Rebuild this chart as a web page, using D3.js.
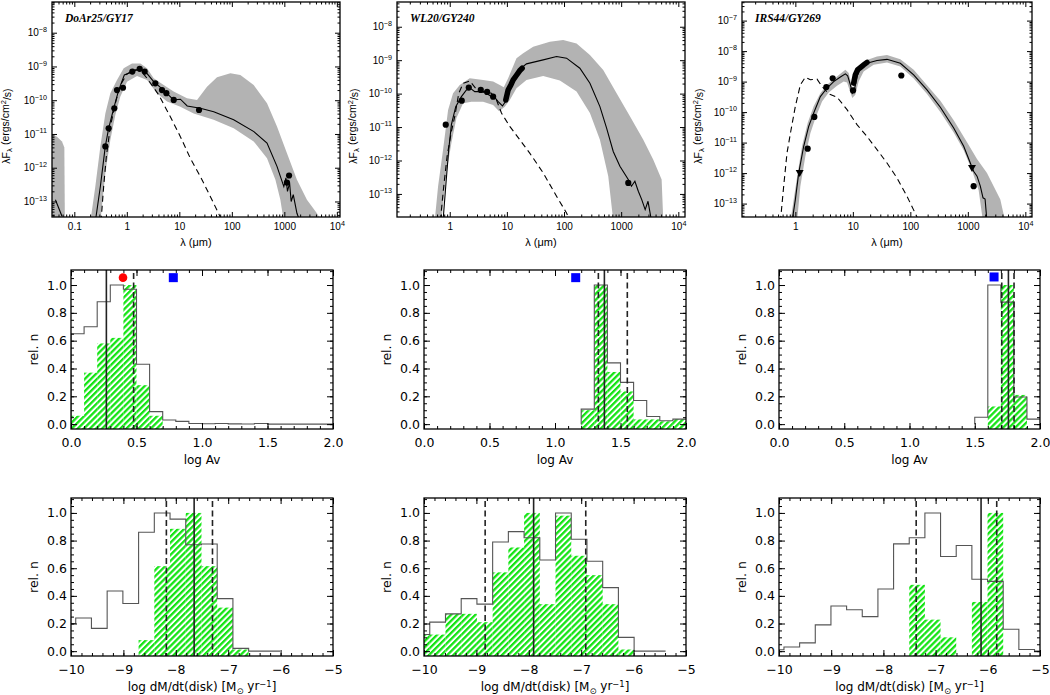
<!DOCTYPE html>
<html>
<head>
<meta charset="utf-8">
<script src="https://cdn.jsdelivr.net/npm/d3@7"></script>
<style>
  body { margin: 0; background: #fff; }
  svg { display: block; }
</style>
</head>
<body>
<svg id="chart" width="1050" height="695"></svg>
<script>
// ---- SED panels: [log10 lambda (um), log10 lambda*F (ergs/cm2/s)] ----
var sed1Upper = [[-0.695,-13.6],[-0.60,-12.56],[-0.504,-11.37],[-0.409,-10.39],[-0.314,-9.79],[-0.187,-9.40],[-0.06,-9.055],[0.099,-8.91],[0.258,-8.91],[0.385,-9.055],[0.512,-9.35],[0.702,-9.55],[0.892,-9.745],[1.146,-9.94],[1.337,-9.99],[1.527,-9.60],[1.718,-9.32],[1.972,-9.20],[2.162,-9.25],[2.416,-9.55],[2.67,-10.09],[2.86,-10.78],[3.05,-11.57],[3.24,-12.36],[3.43,-12.95],[3.62,-13.35],[3.72,-13.6]];
var sed1Lower = [[-0.504,-13.6],[-0.409,-12.16],[-0.314,-11.18],[-0.219,-10.44],[-0.123,-9.89],[0.004,-9.45],[0.194,-9.28],[0.385,-9.40],[0.575,-9.79],[0.766,-10.04],[1.02,-10.19],[1.273,-10.39],[1.654,-10.58],[2.035,-10.83],[2.416,-11.22],[2.67,-11.72],[2.83,-12.36],[2.924,-12.95],[2.99,-13.6]];
var sed1Patch = [[-1.45,-10.98],[-1.33,-11.08],[-1.235,-11.22],[-1.19,-11.4],[-1.18,-13.6],[-1.45,-13.6]];
var sed1Fit = [[-0.60,-13.6],[-0.504,-12.556],[-0.41,-11.37],[-0.345,-10.83],[-0.25,-10.24],[-0.155,-9.70],[-0.047,-9.25],[0.118,-9.15],[0.245,-9.07],[0.353,-9.15],[0.511,-9.45],[0.702,-9.70],[0.89,-9.99],[1.02,-9.97],[1.15,-10.17],[1.40,-10.24],[1.655,-10.34],[2.035,-10.58],[2.42,-10.93],[2.67,-11.27],[2.86,-11.96],[2.99,-12.56],[3.03,-12.3],[3.06,-12.7],[3.1,-12.45],[3.13,-13.0],[3.17,-12.8],[3.24,-13.35],[3.30,-13.6]];
var sed1FitUV = [[-1.36,-12.95],[-1.235,-13.44]];
var sed1Star = [[-0.492,-13.6],[-0.441,-12.556],[-0.39,-11.67],[-0.314,-10.78],[-0.219,-10.09],[-0.123,-9.55],[0.004,-9.22],[0.162,-9.10],[0.257,-9.10],[0.385,-9.35],[0.607,-9.84],[0.829,-10.49],[1.02,-11.08],[1.21,-11.72],[1.40,-12.26],[1.59,-12.85],[1.78,-13.46]];
var sed1Points = [[-0.409,-11.37],[-0.346,-10.83],[-0.238,-10.24],[-0.187,-9.70],[-0.073,-9.63],[0.105,-9.15],[0.245,-9.07],[0.34,-9.15],[0.543,-9.50],[0.67,-9.70],[0.753,-9.79],[0.893,-9.99],[1.375,-10.29],[3.05,-12.44],[3.09,-12.23]];

var sed2Upper = [[-0.263,-13.8],[-0.204,-12.77],[-0.117,-11.68],[-0.029,-10.49],[0.058,-9.99],[0.175,-9.74],[0.35,-9.54],[0.584,-9.59],[0.759,-9.64],[0.876,-9.74],[0.946,-9.81],[1.022,-9.54],[1.168,-8.94],[1.285,-8.795],[1.46,-8.60],[1.752,-8.45],[1.985,-8.40],[2.219,-8.50],[2.453,-8.845],[2.686,-9.29],[2.92,-9.99],[3.153,-10.68],[3.387,-11.38],[3.562,-11.98],[3.708,-12.57],[3.737,-13.8]];
var sed2Lower = [[-0.146,-13.8],[-0.058,-12.37],[0.029,-11.48],[0.117,-10.73],[0.234,-10.29],[0.38,-10.24],[0.584,-10.24],[0.759,-10.34],[0.864,-10.53],[0.964,-10.39],[1.051,-10.19],[1.168,-9.84],[1.343,-9.59],[1.635,-9.47],[1.927,-9.61],[2.219,-9.94],[2.453,-10.58],[2.628,-11.38],[2.774,-12.47],[2.861,-13.8]];
var sed2Fit = [[-0.117,-13.8],[-0.07,-12.77],[-0.018,-11.68],[0.029,-10.93],[0.105,-10.39],[0.204,-10.09],[0.292,-9.89],[0.362,-9.84],[0.438,-9.94],[0.584,-9.94],[0.73,-9.99],[0.847,-10.24],[0.923,-10.37],[0.993,-10.19],[1.08,-9.74],[1.197,-9.31],[1.343,-9.11],[1.635,-8.99],[1.869,-8.89],[2.044,-8.94],[2.277,-9.24],[2.453,-9.69],[2.628,-10.39],[2.745,-11.03],[2.861,-11.73],[2.978,-12.17],[3.124,-12.57],[3.18,-12.77],[3.24,-12.62],[3.30,-12.92],[3.36,-13.17],[3.42,-13.47],[3.47,-13.22],[3.53,-13.8]];
var sed2Star = [[-0.164,-13.8],[-0.105,-12.77],[-0.047,-11.88],[0.029,-11.13],[0.088,-10.68],[0.158,-9.99],[0.234,-9.69],[0.35,-9.62],[0.467,-9.87],[0.642,-9.99],[0.818,-10.19],[0.905,-10.58],[1.051,-10.98],[1.226,-11.38],[1.40,-11.78],[1.635,-12.37],[1.869,-13.07],[2.044,-13.57],[2.073,-13.69]];
var sed2Points = [[-0.07,-10.93],[0.21,-10.21],[0.333,-9.82],[0.543,-9.89],[0.654,-9.95],[0.759,-10.09],[3.124,-12.67]];
var sed2Spec = [[0.981,-10.19],[1.022,-9.89],[1.069,-9.74],[1.11,-9.59],[1.168,-9.45],[1.226,-9.31],[1.267,-9.24]];

var sed3Upper = [[-0.087,-13.6],[-0.029,-12.87],[0.041,-12.0],[0.116,-11.12],[0.214,-10.36],[0.319,-9.81],[0.435,-9.38],[0.551,-9.105],[0.667,-8.92],[0.783,-8.745],[0.87,-8.615],[0.928,-8.72],[0.968,-9.05],[1.003,-9.25],[1.043,-8.89],[1.101,-8.505],[1.246,-8.29],[1.42,-8.18],[1.594,-8.13],[1.826,-8.27],[2.058,-8.61],[2.29,-9.12],[2.522,-9.63],[2.754,-10.27],[2.986,-10.99],[3.159,-11.54],[3.333,-12.0],[3.449,-12.43],[3.565,-12.87],[3.652,-13.6]];
var sed3Lower = [[0.029,-13.6],[0.087,-12.43],[0.174,-11.45],[0.261,-10.69],[0.348,-10.20],[0.464,-9.65],[0.58,-9.36],[0.725,-9.14],[0.841,-9.0],[0.899,-9.03],[0.957,-9.36],[0.991,-9.54],[1.043,-9.43],[1.101,-9.0],[1.188,-8.67],[1.362,-8.45],[1.594,-8.37],[1.826,-8.505],[2.058,-8.90],[2.29,-9.41],[2.522,-10.0],[2.754,-10.67],[2.928,-11.25],[3.072,-11.91],[3.188,-12.56],[3.264,-13.6]];
var sed3Fit = [[-0.058,-13.6],[0.0,-12.87],[0.058,-12.0],[0.145,-11.12],[0.232,-10.47],[0.319,-10.03],[0.435,-9.49],[0.551,-9.21],[0.667,-9.0],[0.783,-8.85],[0.870,-8.745],[0.910,-8.81],[0.957,-9.105],[0.991,-9.38],[1.026,-9.29],[1.072,-8.83],[1.13,-8.56],[1.246,-8.40],[1.42,-8.31],[1.594,-8.27],[1.826,-8.40],[2.058,-8.78],[2.29,-9.27],[2.522,-9.84],[2.754,-10.52],[2.928,-11.12],[3.043,-11.67],[3.10,-11.94],[3.16,-12.1],[3.217,-12.43],[3.264,-12.81],[3.30,-12.85],[3.333,-13.6]];
var sed3Star = [[-0.261,-13.6],[-0.203,-12.43],[-0.145,-11.34],[-0.075,-10.58],[0.0,-9.81],[0.087,-9.105],[0.174,-8.855],[0.261,-8.94],[0.377,-8.92],[0.464,-9.16],[0.58,-9.40],[0.725,-9.51],[0.899,-9.92],[1.072,-10.41],[1.246,-10.80],[1.42,-11.23],[1.594,-11.67],[1.768,-12.16],[1.942,-12.76],[2.116,-13.44]];
var sed3Points = [[0.214,-11.2],[0.330,-10.16],[0.539,-9.18],[0.649,-8.89],[1.003,-9.29],[1.843,-8.80],[3.101,-12.43]];
var sed3Limits = [[0.075,-12.0],[3.072,-11.83]];
var sed3Spec = [[1.014,-9.05],[1.043,-8.78],[1.084,-8.61],[1.13,-8.54],[1.188,-8.45],[1.246,-8.37]];

var sedTitles = ["DoAr25/GY17", "WL20/GY240", "IRS44/GY269"];

// ---- log Av histograms (bin width 0.1) ----
var av1Start = 0.0;
var av1All  = [0.65,0.70,0.88,1.0,0.97,0.43,0.09,0.03,0.02,0.005,0.003,0.005,0.002,0.001,0.005,0,0,0,0,0];
var av1Good = [0.06,0.37,0.58,0.62,1.0,0.28,0.06,0,0,0,0,0,0,0,0,0,0,0,0,0];
var av1Best = [0.27], av1Range = [0.478];
var av1Red = [[0.397,1.053]], av1Blue = [[0.781,1.053]];

var av2Start = 1.2;
var av2All  = [0.108,1.0,0.44,0.30,0.17,0.055,0.024,0.036];
var av2Good = [0.10,1.0,0.375,0.235,0.034,0.034,0.02,0.036];
var av2Best = [1.377], av2Range = [1.331,1.552];
var av2Blue = [[1.158,1.053]];

var av3Start = 1.5;
var av3All  = [0.05,1.0,0.877,0.195,0.036];
var av3Good = [0,0.127,1.0,0.21,0];
var av3Best = [1.758], av3Range = [1.707,1.801];
var av3Blue = [[1.648,1.058]];

// ---- log dM/dt(disk) histograms (bin width 0.3) ----
var md1Start = -10.21;
var md1All  = [0.20,0.24,0.165,0.435,0.345,0.86,1.0,0.955,0.77,0.775,0.38,0.02,0,0];
var md1Good = [0,0,0,0,0,0.08,0.615,0.885,1.0,0.615,0.315,0.012,0,0];
var md1Best = [-7.65], md1Range = [-8.18,-7.30];

var md2Start = -10.19;
var md2All  = [0.12,0.21,0.27,0.38,0.34,0.79,0.865,0.82,0.66,1.0,0.81,0.65,0.46,0.10,0,0];
var md2Good = [0.12,0.12,0.27,0.27,0.21,0.57,0.75,1.0,0.34,0.98,0.69,0.55,0.34,0.012,0,0];
var md2Best = [-7.908], md2Range = [-8.833,-6.913];

var md3Start = -10.205;
var md3All  = [0.01,0.03,0.06,0.19,0.327,0.30,0.25,0.45,0.776,0.82,1.0,0.685,0.764,0.52,0.505,0.159,0.012,0];
var md3Good = [0,0,0,0,0,0,0,0,0,0.48,0.228,0.10,0,0.356,1.0,0,0,0];
var md3Best = [-6.129], md3Range = [-7.372,-5.829];

var avTicks = [0, 0.5, 1.0, 1.5, 2.0];
var mdTicks = [-10, -9, -8, -7, -6, -5];
var relTicks = [0, 0.2, 0.4, 0.6, 0.8, 1.0];

var svg = d3.select("#chart");
var defs = svg.append("defs");
// green hatching like the IDL line_fill
defs.append("pattern").attr("id", "hatch").attr("patternUnits", "userSpaceOnUse")
    .attr("width", 4.3).attr("height", 4.3).attr("patternTransform", "rotate(45)")
    .append("rect").attr("width", 2.3).attr("height", 4.3).attr("fill", "#14e414");

var SANS = "'DejaVu Sans', sans-serif";
var NARROW = "'Liberation Sans Narrow', 'Liberation Sans', sans-serif";
var clipId = 0;

function supify(sel) {
    sel.selectAll(".tick text").each(function() {
        var t = d3.select(this), s = t.text();
        if (s.indexOf("^") < 0) return;
        var p = s.split("^");
        t.text(p[0]);
        t.append("tspan").attr("dy", "-0.6em").attr("font-size", "0.72em").text(p[1]);
    });
}

function drawAxes(g, x, y, p, o) {
    var none = function() { return ""; };
    function put(axis, tr) {
        var a = g.append("g").attr("transform", tr).call(axis);
        a.select(".domain").remove();
        a.attr("font-family", o.font).attr("font-size", o.fs);
        return a;
    }
    put(d3.axisBottom(x).tickValues(o.xMin).tickSize(-o.minLen).tickFormat(none), "translate(0," + p.y1 + ")");
    var xb = put(d3.axisBottom(x).tickValues(o.xMaj).tickSize(-o.majLen).tickPadding(o.padX).tickFormat(o.xFmt), "translate(0," + p.y1 + ")");
    put(d3.axisTop(x).tickValues(o.xMin).tickSize(-o.minLen).tickFormat(none), "translate(0," + p.y0 + ")");
    put(d3.axisTop(x).tickValues(o.xMaj).tickSize(-o.majLen).tickFormat(none), "translate(0," + p.y0 + ")");
    put(d3.axisLeft(y).tickValues(o.yMin).tickSize(-o.minLen).tickFormat(none), "translate(" + p.x0 + ",0)");
    var yl = put(d3.axisLeft(y).tickValues(o.yMaj).tickSize(-o.majLen).tickPadding(o.padY).tickFormat(o.yFmt), "translate(" + p.x0 + ",0)");
    put(d3.axisRight(y).tickValues(o.yMin).tickSize(-o.minLen).tickFormat(none), "translate(" + p.x1 + ",0)");
    put(d3.axisRight(y).tickValues(o.yMaj).tickSize(-o.majLen).tickFormat(none), "translate(" + p.x1 + ",0)");
    supify(xb); supify(yl);
    g.append("rect").attr("x", p.x0).attr("y", p.y0).attr("width", p.x1 - p.x0).attr("height", p.y1 - p.y0)
        .attr("fill", "none").attr("stroke", "#000").attr("stroke-width", 1.3);
}

function clipFor(p) {
    var id = "clip" + (clipId++);
    defs.append("clipPath").attr("id", id).append("rect")
        .attr("x", p.x0).attr("y", p.y0).attr("width", p.x1 - p.x0).attr("height", p.y1 - p.y0);
    return "url(#" + id + ")";
}

function logTicks(lo, hi) {
    var maj = [], min = [];
    for (var e = Math.floor(lo); e <= Math.ceil(hi); e++) {
        for (var m = 1; m < 10; m++) {
            var v = Math.log10(m) + e;
            if (v < lo || v > hi) continue;
            (m === 1 ? maj : min).push(m * Math.pow(10, e));
        }
    }
    return {maj: maj, min: min};
}

function sedPanel(p, d) {
    var g = svg.append("g");
    var x = d3.scaleLog().domain([Math.pow(10, p.xl[0]), Math.pow(10, p.xl[1])]).range([p.x0, p.x1]);
    var y = d3.scaleLog().domain([Math.pow(10, p.yl[0]), Math.pow(10, p.yl[1])]).range([p.y1, p.y0]);
    var line = d3.line().x(function(v) { return x(Math.pow(10, v[0])); }).y(function(v) { return y(Math.pow(10, v[1])); });
    var inner = g.append("g").attr("clip-path", clipFor(p));

    d.bands.forEach(function(b) {
        inner.append("path").attr("d", line(b) + "Z").attr("fill", "#b3b3b3");
    });
    inner.append("path").attr("d", line(d.star)).attr("fill", "none").attr("stroke", "#000")
        .attr("stroke-width", 1.1).attr("stroke-dasharray", "6,4");
    d.fits.forEach(function(f) {
        inner.append("path").attr("d", line(f)).attr("fill", "none").attr("stroke", "#000").attr("stroke-width", 1.1);
    });
    if (d.spec) {
        inner.append("path").attr("d", line(d.spec)).attr("fill", "none").attr("stroke", "#000")
            .attr("stroke-width", 5.5).attr("stroke-linecap", "round");
    }
    inner.selectAll("circle.pt").data(d.points).enter().append("circle")
        .attr("cx", function(v) { return x(Math.pow(10, v[0])); })
        .attr("cy", function(v) { return y(Math.pow(10, v[1])); })
        .attr("r", 3.1).attr("fill", "#000");
    inner.selectAll("path.lim").data(d.limits || []).enter().append("path")
        .attr("transform", function(v) { return "translate(" + x(Math.pow(10, v[0])) + "," + y(Math.pow(10, v[1])) + ")"; })
        .attr("d", "M-4,-3L4,-3L0,4Z").attr("fill", "#000");

    var xt = logTicks(p.xl[0], p.xl[1]), yt = logTicks(p.yl[0], p.yl[1]);
    drawAxes(g, x, y, p, {
        xMaj: xt.maj, xMin: xt.min, yMaj: yt.maj, yMin: yt.min,
        xFmt: function(v) { return v >= 1e4 ? "10^4" : d3.format("~g")(v); },
        yFmt: function(v) { return "10^\u2212" + Math.round(-Math.log10(v)); },
        majLen: 5, minLen: 2.5, padX: 6, padY: 5, font: NARROW, fs: 10
    });

    g.append("text").attr("x", p.tx).attr("y", 22).attr("font-family", "'Liberation Serif', serif")
        .attr("font-style", "italic").attr("font-weight", "bold").attr("font-size", 11.5).text(d.title);
    g.append("text").attr("x", (p.x0 + p.x1) / 2).attr("y", 246).attr("text-anchor", "middle")
        .attr("font-family", NARROW).attr("font-size", 11).text("\u03bb (\u03bcm)");
    var yt2 = g.append("text").attr("transform", "translate(" + p.ytx + ",126) rotate(-90)")
        .attr("text-anchor", "middle").attr("font-family", NARROW).attr("font-size", 10.5);
    yt2.append("tspan").text("\u03bbF");
    yt2.append("tspan").attr("dy", "0.3em").attr("font-size", "0.75em").text("\u03bb");
    yt2.append("tspan").attr("dy", "-0.3em").text(" (ergs/cm");
    yt2.append("tspan").attr("dy", "-0.45em").attr("font-size", "0.72em").text("2");
    yt2.append("tspan").attr("dy", "0.45em").text("/s)");
}

function histPanel(p, h) {
    var g = svg.append("g");
    var x = d3.scaleLinear().domain(h.xd).range([p.x0, p.x1]);
    var y = d3.scaleLinear().domain([-0.035, 1.108]).range([p.y1, p.y0]);
    var inner = g.append("g").attr("clip-path", clipFor(p));
    var bins = h.good.map(function(v, i) { return {v: v, a: h.start + i * h.w}; }).filter(function(b) { return b.v > 0; });
    inner.selectAll("rect.bar").data(bins).enter().append("rect")
        .attr("x", function(b) { return x(b.a); })
        .attr("width", function(b) { return x(b.a + h.w) - x(b.a); })
        .attr("y", function(b) { return y(b.v); })
        .attr("height", function(b) { return p.y1 - y(b.v); })
        .attr("fill", "url(#hatch)");
    var pts = [[h.start, 0]];
    h.all.forEach(function(v, i) { pts.push([h.start + i * h.w, v], [h.start + (i + 1) * h.w, v]); });
    inner.append("path").attr("d", d3.line().x(function(v) { return x(v[0]); }).y(function(v) { return y(v[1]); })(pts))
        .attr("fill", "none").attr("stroke", "#555").attr("stroke-width", 1.1);
    inner.selectAll("line.best").data(h.best).enter().append("line")
        .attr("x1", function(v) { return x(v); }).attr("x2", function(v) { return x(v); })
        .attr("y1", p.y0).attr("y2", p.y1).attr("stroke", "#222").attr("stroke-width", 1.6);
    inner.selectAll("line.rng").data(h.range).enter().append("line")
        .attr("x1", function(v) { return x(v); }).attr("x2", function(v) { return x(v); })
        .attr("y1", p.y0 + 3).attr("y2", p.y1).attr("stroke", "#222").attr("stroke-width", 1.6)
        .attr("stroke-dasharray", "6,3.5");
    g.selectAll("circle.red").data(h.red || []).enter().append("circle")
        .attr("cx", function(v) { return x(v[0]); }).attr("cy", function(v) { return y(v[1]); })
        .attr("r", 4.3).attr("fill", "#ff0000");
    g.selectAll("rect.blue").data(h.blue || []).enter().append("rect")
        .attr("x", function(v) { return x(v[0]) - 4.5; }).attr("y", function(v) { return y(v[1]) - 4.5; })
        .attr("width", 9).attr("height", 9).attr("fill", "#0000ff");

    drawAxes(g, x, y, p, {
        xMaj: h.xMaj, xMin: h.xMin, yMaj: relTicks, yMin: d3.range(0, 1.1001, 0.05),
        xFmt: h.xFmt, yFmt: d3.format(".1f"),
        majLen: 6, minLen: 3, padX: 9, padY: 4, font: SANS, fs: 12.5
    });
    g.append("text").attr("transform", "translate(" + (p.x0 - 33) + "," + ((p.y0 + p.y1) / 2) + ") rotate(-90)")
        .attr("text-anchor", "middle").attr("font-family", SANS).attr("font-size", 12.5).text("rel. n");
    var t = g.append("text").attr("x", (p.x0 + p.x1) / 2).attr("y", p.y1 + 35).attr("text-anchor", "middle")
        .attr("font-family", SANS).attr("font-size", 12);
    if (h.md) {
        t.append("tspan").text("log dM/dt(disk) [M");
        t.append("tspan").attr("dy", "0.3em").attr("font-size", "0.7em").text("\u2299");
        t.append("tspan").attr("dy", "-0.3em").text(" yr");
        t.append("tspan").attr("dy", "-0.4em").attr("font-size", "0.7em").text("\u22121");
        t.append("tspan").attr("dy", "0.4em").text("]");
    } else {
        t.text("log Av");
    }
}

// layout
var sedLayout = [
    {x0: 52, x1: 340, y0: 2, y1: 217, xl: [-1.425, 4.06], yl: [-13.46, -7.09], tx: 65, ytx: 10},
    {x0: 397, x1: 685, y0: 2, y1: 217, xl: [-0.923, 4.117], yl: [-13.69, -7.26], tx: 410, ytx: 357},
    {x0: 742, x1: 1032, y0: 2, y1: 217, xl: [-0.928, 4.116], yl: [-13.44, -6.39], tx: 755, ytx: 702}
];
var sedData = [
    {title: sedTitles[0], bands: [sed1Upper.concat(sed1Lower.slice().reverse()), sed1Patch], fits: [sed1Fit, sed1FitUV], star: sed1Star, points: sed1Points},
    {title: sedTitles[1], bands: [sed2Upper.concat(sed2Lower.slice().reverse())], fits: [sed2Fit], star: sed2Star, points: sed2Points, spec: sed2Spec},
    {title: sedTitles[2], bands: [sed3Upper.concat(sed3Lower.slice().reverse())], fits: [sed3Fit], star: sed3Star, points: sed3Points, spec: sed3Spec, limits: sed3Limits}
];
sedLayout.forEach(function(p, i) { sedPanel(p, sedData[i]); });

var midX = [71, 424, 779], midX1 = [333, 686, 1040];
var avMinor = d3.range(0, 2.0001, 0.1);
var mdMinor = d3.range(-10, -4.999, 0.2);
var avHists = [
    {start: av1Start, all: av1All, good: av1Good, best: av1Best, range: av1Range, red: av1Red, blue: av1Blue},
    {start: av2Start, all: av2All, good: av2Good, best: av2Best, range: av2Range, blue: av2Blue},
    {start: av3Start, all: av3All, good: av3Good, best: av3Best, range: av3Range, blue: av3Blue}
];
avHists.forEach(function(h, i) {
    h.w = 0.1; h.xd = [0, 2]; h.xMaj = avTicks; h.xMin = avMinor; h.xFmt = d3.format(".1f");
    histPanel({x0: midX[i], x1: midX1[i], y0: 270, y1: 429}, h);
});
var mdHists = [
    {start: md1Start, all: md1All, good: md1Good, best: md1Best, range: md1Range},
    {start: md2Start, all: md2All, good: md2Good, best: md2Best, range: md2Range},
    {start: md3Start, all: md3All, good: md3Good, best: md3Best, range: md3Range}
];
mdHists.forEach(function(h, i) {
    h.w = 0.3; h.xd = [-10, -5]; h.xMaj = mdTicks; h.xMin = mdMinor; h.xFmt = d3.format("d"); h.md = true;
    histPanel({x0: midX[i], x1: midX1[i], y0: 498, y1: 656}, h);
});
</script>
</body>
</html>
